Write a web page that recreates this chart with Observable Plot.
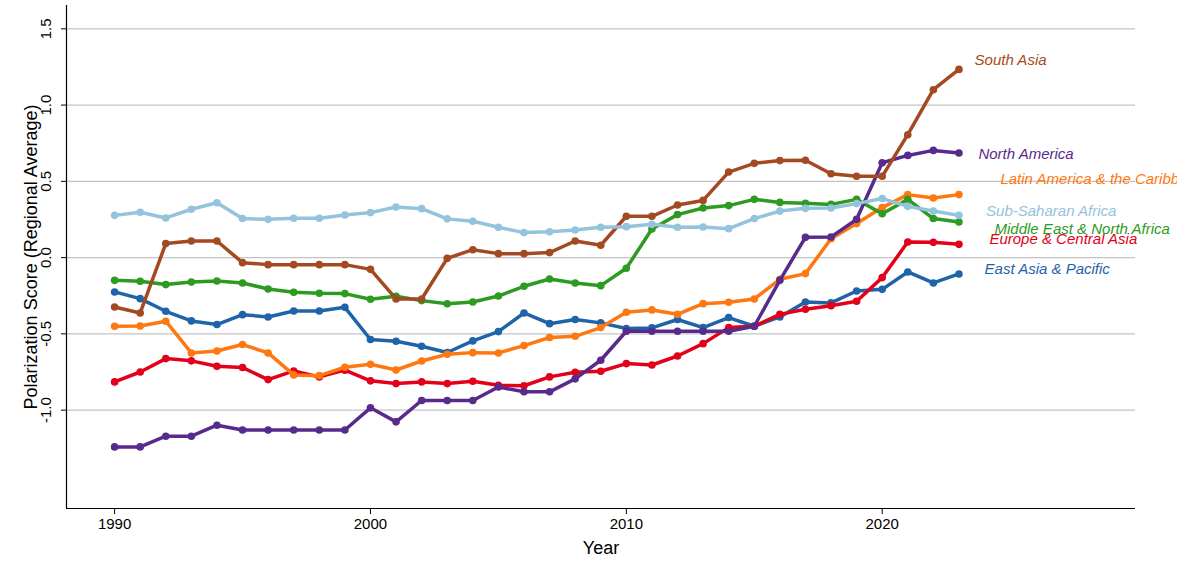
<!DOCTYPE html>
<html>
<head>
<meta charset="utf-8">
<script src="https://cdn.jsdelivr.net/npm/d3@7"></script>
<script src="https://cdn.jsdelivr.net/npm/@observablehq/plot@0.6"></script>
<style>
  html, body { margin: 0; padding: 0; background: #fff; }
  #chart { width: 1177px; height: 567px; overflow: hidden; }
</style>
</head>
<body>
<div id="chart"></div>
<script>
// Years covered by the regional averages
const years = [1990, 1991, 1992, 1993, 1994, 1995, 1996, 1997, 1998, 1999,
               2000, 2001, 2002, 2003, 2004, 2005, 2006, 2007, 2008, 2009,
               2010, 2011, 2012, 2013, 2014, 2015, 2016, 2017, 2018, 2019,
               2020, 2021, 2022, 2023];

// Regions (drawn in this order, later ones on top)
const regions = ["East Asia & Pacific", "Europe & Central Asia", "Latin America & the Caribbean",
                 "Middle East & North Africa", "North America", "South Asia", "Sub-Saharan Africa"];
const regionColors = ["#1f64a8", "#e2001a", "#ff7711", "#2d9a22", "#582a8c", "#a34a22", "#94c3dd"];

// Polarization score, regional average, one value per year
const eastAsiaPacific = [-0.225, -0.269, -0.352, -0.415, -0.439, -0.374, -0.389, -0.35, -0.35, -0.326,
                         -0.537, -0.548, -0.581, -0.622, -0.546, -0.485, -0.363, -0.433, -0.406, -0.428,
                         -0.465, -0.461, -0.406, -0.459, -0.393, -0.45, -0.389, -0.291, -0.297, -0.219,
                         -0.208, -0.094, -0.166, -0.107];
const europeCentralAsia = [-0.815, -0.75, -0.662, -0.677, -0.712, -0.721, -0.8, -0.743, -0.782, -0.738,
                           -0.808, -0.826, -0.815, -0.826, -0.811, -0.837, -0.84, -0.782, -0.752, -0.745,
                           -0.695, -0.704, -0.645, -0.564, -0.459, -0.45, -0.372, -0.339, -0.315, -0.286,
                           -0.131, 0.102, 0.1, 0.087];
const latinAmericaCaribbean = [-0.45, -0.448, -0.417, -0.625, -0.612, -0.57, -0.625, -0.769, -0.774, -0.719,
                               -0.699, -0.737, -0.678, -0.634, -0.623, -0.625, -0.577, -0.524, -0.516, -0.459,
                               -0.358, -0.343, -0.372, -0.302, -0.293, -0.271, -0.142, -0.105, 0.124, 0.223,
                               0.328, 0.413, 0.391, 0.413];
const middleEastNorthAfrica = [-0.149, -0.155, -0.177, -0.16, -0.153, -0.166, -0.206, -0.227, -0.234, -0.236,
                               -0.273, -0.254, -0.282, -0.303, -0.291, -0.252, -0.188, -0.14, -0.166, -0.184,
                               -0.07, 0.188, 0.282, 0.325, 0.341, 0.382, 0.362, 0.356, 0.349, 0.382,
                               0.288, 0.382, 0.256, 0.233];
const northAmerica = [-1.241, -1.241, -1.171, -1.171, -1.099, -1.13, -1.13, -1.13, -1.13, -1.13,
                      -0.985, -1.077, -0.937, -0.937, -0.937, -0.848, -0.88, -0.88, -0.795, -0.673,
                      -0.483, -0.483, -0.483, -0.483, -0.483, -0.45, -0.149, 0.133, 0.135, 0.251,
                      0.622, 0.67, 0.703, 0.686];
const southAsia = [-0.324, -0.363, 0.092, 0.109, 0.109, -0.033, -0.046, -0.046, -0.046, -0.046,
                   -0.077, -0.271, -0.271, -0.005, 0.052, 0.026, 0.026, 0.033, 0.109, 0.081,
                   0.271, 0.271, 0.345, 0.375, 0.561, 0.618, 0.636, 0.638, 0.55, 0.533,
                   0.533, 0.806, 1.101, 1.234];
const subSaharanAfrica = [0.277, 0.297, 0.26, 0.317, 0.36, 0.256, 0.251, 0.258, 0.258, 0.279,
                          0.295, 0.332, 0.321, 0.254, 0.238, 0.199, 0.164, 0.17, 0.181, 0.199,
                          0.203, 0.218, 0.199, 0.201, 0.19, 0.256, 0.305, 0.323, 0.325, 0.354,
                          0.387, 0.336, 0.305, 0.277];

// Where each region's name sits at the right end of its line (year, score)
const labelYears  = [2024.0, 2024.19, 2024.62, 2024.39, 2023.76, 2023.61, 2024.06];
const labelScores = [-0.075, 0.118, 0.511, 0.185, 0.677, 1.293, 0.305];

// Axis ticks
const xTicks = [1990, 2000, 2010, 2020];
const yTicks = [-1.0, -0.5, 0.0, 0.5, 1.0, 1.5];

// Long-format table built from the arrays above
const seriesValues = [eastAsiaPacific, europeCentralAsia, latinAmericaCaribbean,
                      middleEastNorthAfrica, northAmerica, southAsia, subSaharanAfrica];
const rows = regions.flatMap((region, i) =>
  years.map((year, j) => ({region, year, score: seriesValues[i][j]})));
const labels = regions.map((region, i) => ({region, year: labelYears[i], score: labelScores[i]}));

const xDomain = [1988.12, 2029.9];
const yDomain = [-1.645, 1.653];

const seriesMarks = regions.flatMap(region => {
  const sub = rows.filter(d => d.region === region);
  return [
    Plot.line(sub, {x: "year", y: "score", stroke: "region", strokeWidth: 3.5, strokeLinejoin: "round"}),
    Plot.dot(sub, {x: "year", y: "score", fill: "region", r: 3.8, stroke: "none"})
  ];
});

const chart = Plot.plot({
  width: 1177,
  height: 567,
  marginLeft: 66,
  marginRight: 42,
  marginTop: 5,
  marginBottom: 59,
  style: {fontFamily: "'Liberation Sans', Arial, Helvetica, sans-serif", background: "#fff", overflow: "visible"},
  x: {domain: xDomain},
  y: {domain: yDomain},
  color: {domain: regions, range: regionColors},
  marks: [
    Plot.gridY(yTicks, {stroke: "#c4c4c4", strokeOpacity: 1, strokeWidth: 1.3}),
    Plot.ruleX([xDomain[0]], {stroke: "#000", strokeWidth: 1.2}),
    Plot.ruleY([yDomain[0]], {stroke: "#000", strokeWidth: 1.2}),
    // tick marks from the axes; tick labels as text marks on the same scales
    Plot.axisX(xTicks, {tickSize: 6, stroke: "#000", fill: "none", label: null}),
    Plot.axisY(yTicks, {tickSize: 5, stroke: "#000", fill: "none", label: null}),
    Plot.text(xTicks, {x: d => d, text: d => String(d), frameAnchor: "bottom", dy: 20, fontSize: 15, fill: "#000"}),
    Plot.text(yTicks, {y: d => d, text: d => d.toFixed(1), frameAnchor: "left", textAnchor: "middle", rotate: -90, dx: -20.5, fontSize: 15, fill: "#000"}),
    Plot.text(["Year"], {text: d => d, frameAnchor: "bottom", dy: 45, fontSize: 18, fill: "#000"}),
    Plot.text(["Polarization Score (Regional Average)"], {text: d => d, frameAnchor: "left", textAnchor: "middle", rotate: -90, dx: -35, fontSize: 18, fill: "#000"}),
    ...seriesMarks,
    Plot.text(labels, {x: "year", y: "score", text: "region", fill: "region", textAnchor: "start", fontSize: 15, fontStyle: "italic"})
  ]
});

document.getElementById("chart").appendChild(chart);
</script>
</body>
</html>
